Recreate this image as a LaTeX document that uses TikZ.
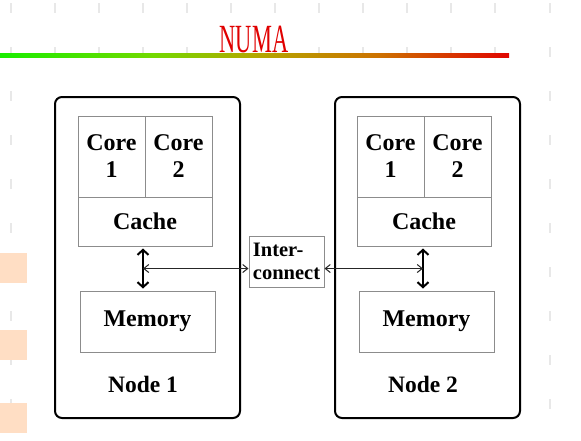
\documentclass[tikz,border=0pt]{standalone}
\usepackage{fontspec}
\setmainfont{Liberation Serif}
\usetikzlibrary{arrows.meta,calc}
\pgfdeclarehorizontalshading{numaline}{100bp}{rgb(0bp)=(0.1,0.93,0); rgb(25bp)=(0.1,0.93,0); rgb(40bp)=(0.45,0.85,0); rgb(50bp)=(0.7,0.66,0); rgb(62bp)=(0.8,0.45,0); rgb(75bp)=(0.88,0.02,0); rgb(100bp)=(0.88,0.02,0)}
\definecolor{peach}{RGB}{255,222,196}
\definecolor{tickgray}{RGB}{232,232,232}
\definecolor{boxgray}{RGB}{140,140,140}
\definecolor{titlered}{RGB}{224,0,0}
\tikzset{
  tickmark/.style={tickgray,line width=1.2pt},
  outerbox/.style={draw=black,line width=2pt,rounded corners=7pt,fill=white,minimum width=185pt,minimum height=321pt,inner sep=0pt},
  corebox/.style={draw=boxgray,line width=1pt,minimum width=67pt,minimum height=81pt,inner sep=0pt,align=center,font=\fontsize{24}{27}\selectfont\bfseries},
  cachebox/.style={draw=boxgray,line width=1pt,minimum width=134pt,minimum height=49pt,inner sep=0pt,font=\fontsize{24}{27}\selectfont\bfseries},
  membox/.style={draw=boxgray,line width=1pt,minimum width=135pt,minimum height=61pt,inner sep=0pt,font=\fontsize{24}{27}\selectfont\bfseries},
  nodelabel/.style={inner sep=0pt,font=\fontsize{23.5}{27}\selectfont\bfseries},
  icbox/.style={draw=boxgray,line width=1pt,minimum width=75pt,minimum height=51pt,inner sep=0pt,align=left,font=\fontsize{20.5}{23}\selectfont\bfseries},
  bigarrow/.style={black,line width=2.4pt,{Straight Barb[length=5pt,width=11pt,line width=2pt]}-{Straight Barb[length=5pt,width=11pt,line width=2pt]}},
  harrow/.style={black!85,line width=1pt,{Straight Barb[length=5pt,width=8pt]}-{Straight Barb[length=5pt,width=8pt]}}
}
\begin{document}
\begin{tikzpicture}[x=1pt,y=-1pt]
\useasboundingbox (0,0) rectangle (581,440);
% background grid ticks
\foreach \x in {11,55,...,495,550}
  \foreach \y in {3,47,...,443}
    \draw[tickmark] (\x,\y) -- ++(0,10);
% peach decoration blocks
\fill[peach] (0,253) rectangle (27,283);
\fill[peach] (0,330) rectangle (27,360);
\fill[peach] (0,403) rectangle (27,433);
% title
\node[text=titlered,inner sep=0pt,xscale=0.56,font=\fontsize{40}{40}\selectfont] (title) at (254,39) {NUMA};
\shade[shading=numaline] (0,53.5) rectangle (509,57.5);
% diagram background
\fill[white] (40,85) rectangle (545,440);
% Node 1
\node[outerbox] (n1) at (147.5,257.5) {};
\node[corebox] (c11) at (111.5,156.5) {Core\\1};
\node[corebox] (c12) at (178.5,156.5) {Core\\2};
\node[cachebox] (k1) at (145,221.5) {Cache};
\node[membox] (m1) at (147.5,321.5) {Memory};
\node[nodelabel] (l1) at (143,384) {Node 1};
% Node 2
\node[outerbox] (n2) at (427.5,257.5) {};
\node[corebox] (c21) at (390.5,156.5) {Core\\1};
\node[corebox] (c22) at (457.5,156.5) {Core\\2};
\node[cachebox] (k2) at (424,221.5) {Cache};
\node[membox] (m2) at (426.5,321.5) {Memory};
\node[nodelabel] (l2) at (423,384) {Node 2};
% interconnect
\node[icbox] (ic) at (286.5,261.5) {Inter-\\connect};
% vertical arrows
\coordinate (a1t) at ([xshift=-2pt,yshift=-2pt]k1.south);
\coordinate (a1b) at ([yshift=2pt]a1t |- m1.north);
\coordinate (a1m) at ($(a1t)!0.5!(a1b)$);
\draw[bigarrow] (a1t) -- (a1b);
\coordinate (a2t) at ([xshift=-1pt,yshift=-2pt]k2.south);
\coordinate (a2b) at ([yshift=2pt]a2t |- m2.north);
\coordinate (a2m) at ($(a2t)!0.5!(a2b)$);
\draw[bigarrow] (a2t) -- (a2b);
% horizontal arrows
\draw[harrow] (a1m) -- (ic.west |- a1m);
\draw[harrow] (ic.east |- a2m) -- (a2m);
\end{tikzpicture}
\end{document}
